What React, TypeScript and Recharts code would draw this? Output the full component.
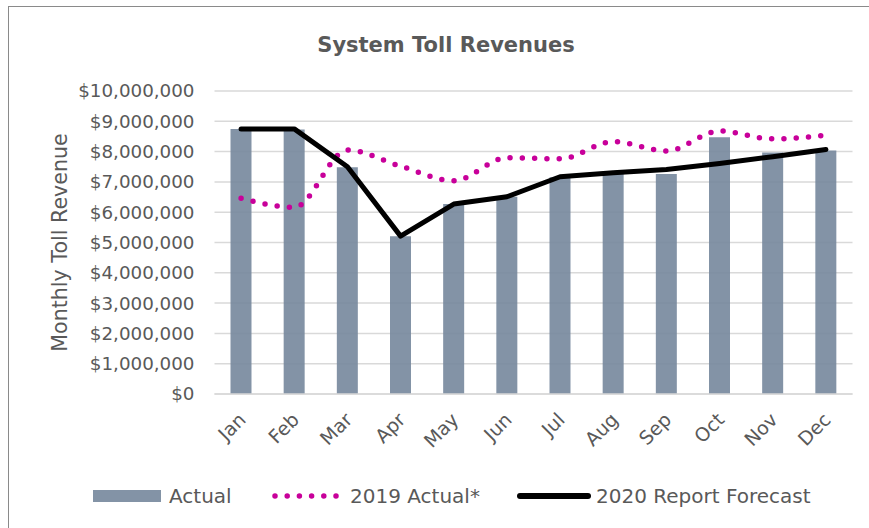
import React from 'react'
import { ComposedChart, Bar, Line, XAxis, YAxis, CartesianGrid, Legend } from 'recharts'

const months = ['Jan', 'Feb', 'Mar', 'Apr', 'May', 'Jun', 'Jul', 'Aug', 'Sep', 'Oct', 'Nov', 'Dec']
const actual2020 = [8750000, 8730000, 7480000, 5210000, 6270000, 6510000, 7150000, 7270000, 7260000, 8470000, 7970000, 8040000]
const actual2019 = [6460000, 6160000, 8050000, 7520000, 7040000, 7800000, 7760000, 8330000, 8020000, 8680000, 8420000, 8540000]
const forecast2020 = [8750000, 8750000, 7500000, 5210000, 6270000, 6510000, 7170000, 7300000, 7410000, 7610000, 7830000, 8070000]
const yTicks = [0, 1000000, 2000000, 3000000, 4000000, 5000000, 6000000, 7000000, 8000000, 9000000, 10000000]

const data = months.map((m, i) => ({
  month: m,
  actual: actual2020[i],
  actual2019: actual2019[i],
  forecast: forecast2020[i],
}))

const FONT = "'DejaVu Sans', sans-serif"
const TEXT = '#595959'
const BAR = '#76879c'
const PINK = '#c8009a'

const fmtMoney = (v: number) => '$' + v.toLocaleString('en-US')

function MonthTick(props: any) {
  const { x, y, payload } = props
  return (
    <g transform={`translate(${x + 6},${y + 27})`}>
      <text transform="rotate(-45)" textAnchor="end" fontFamily={FONT} fontSize={19} fill={TEXT}>
        {payload.value}
      </text>
    </g>
  )
}

function ChartLegend() {
  const txt = { fontFamily: FONT, fontSize: 20, fill: TEXT }
  return (
    <svg width={869} height={30}>
      <rect x={93} y={9} width={68} height={12} fill={BAR} fillOpacity={0.9} />
      <text x={169} y={22} {...txt}>Actual</text>
      <line x1={275} x2={337} y1={15} y2={15} stroke={PINK} strokeWidth={5.5} strokeDasharray="0 12.2" strokeLinecap="round" />
      <text x={350} y={22} {...txt}>2019 Actual*</text>
      <line x1={520} x2={588} y1={15} y2={15} stroke="#000" strokeWidth={6} strokeLinecap="round" />
      <text x={596} y={22} {...txt}>2020 Report Forecast</text>
    </svg>
  )
}

export default function App() {
  return (
    <div style={{ position: 'absolute', left: 0, top: 0, width: 869, height: 528, background: '#fff', overflow: 'hidden' }}>
      <div style={{ position: 'absolute', left: 8, top: 6, width: 870, height: 530, borderTop: '1px solid #8a8a8a', borderLeft: '1px solid #8a8a8a' }} />
      <div style={{ position: 'absolute', left: 0, top: 0 }}>
        <ComposedChart
          width={869}
          height={528}
          data={data}
          margin={{ top: 91, right: 16.5, bottom: 74, left: 40 }}
          barCategoryGap={0}
        >
          <text x={446} y={52} textAnchor="middle" fontFamily={FONT} fontSize={21} fontWeight="bold" fill={TEXT}>
            System Toll Revenues
          </text>
          <CartesianGrid vertical={false} stroke="#d9d9d9" strokeWidth={1.5} />
          <XAxis
            dataKey="month"
            height={60}
            tickLine={false}
            tickSize={0}
            tickMargin={0}
            axisLine={{ stroke: '#d9d9d9', strokeWidth: 1.5 }}
            tick={<MonthTick />}
            interval={0}
          />
          <YAxis
            width={174.5}
            domain={[0, 10000000]}
            ticks={yTicks}
            tickFormatter={fmtMoney}
            tickLine={false}
            axisLine={false}
            tickSize={0}
            tickMargin={20}
            interval={0}
            tick={{ fontFamily: FONT, fontSize: 18.3, fill: TEXT }}
            label={{
              value: 'Monthly Toll Revenue',
              angle: -90,
              position: 'insideLeft',
              offset: 20,
              style: { textAnchor: 'middle', fontFamily: FONT, fontSize: 20.6, fill: TEXT },
            }}
          />
          <Bar dataKey="actual" name="Actual" fill={BAR} fillOpacity={0.9} barSize={21} isAnimationActive={false} />
          <Line
            dataKey="actual2019"
            name="2019 Actual*"
            type="monotone"
            stroke={PINK}
            strokeWidth={5.5}
            strokeDasharray="0 12.3"
            strokeLinecap="round"
            dot={false}
            activeDot={false}
            isAnimationActive={false}
          />
          <Line
            dataKey="forecast"
            name="2020 Report Forecast"
            type="linear"
            stroke="#000"
            strokeWidth={5}
            strokeLinecap="round"
            strokeLinejoin="round"
            dot={false}
            activeDot={false}
            isAnimationActive={false}
          />
          <Legend
            layout="horizontal"
            verticalAlign="middle"
            align="center"
            wrapperStyle={{ top: 481, left: 0, width: 869 }}
            content={() => <ChartLegend />}
          />
        </ComposedChart>
      </div>
    </div>
  )
}
